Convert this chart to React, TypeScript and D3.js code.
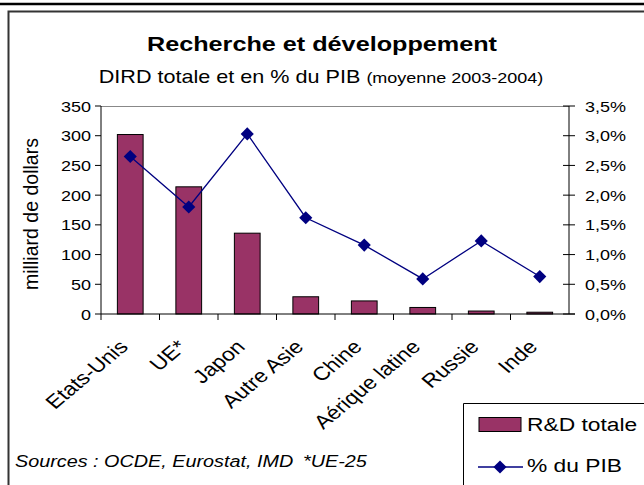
import * as d3 from 'd3';
import React from 'react';

const categories = ['Etats-Unis', 'UE*', 'Japon', 'Autre Asie', 'Chine', 'Aérique latine', 'Russie', 'Inde'];
const rdTotal = [302, 214, 136, 29, 22, 11, 5, 3];
const pctPib = [2.65, 1.8, 3.03, 1.62, 1.16, 0.59, 1.23, 0.63];
const leftTicks = [0, 50, 100, 150, 200, 250, 300, 350];
const rightTicks = [0, 0.5, 1, 1.5, 2, 2.5, 3, 3.5];

const W = 644;
const H = 485;
const margin = { top: 106, right: 75, bottom: 171, left: 101 };
const font = 'Liberation Sans, Arial, sans-serif';
const barColor = '#993366';
const lineColor = '#000080';

// the reference text is drawn a bit wider than it is tall
const T = ({ x, y, sx = 1.2, rot = 0, children, ...rest }: any) => (
  <text transform={`translate(${x},${y}) scale(${sx},1)${rot ? ` rotate(${rot})` : ''}`} {...rest}>{children}</text>
);

export default function App() {
  const yL = d3.scaleLinear().domain([0, 350]).range([H - margin.bottom, margin.top]);
  const yR = d3.scaleLinear().domain([0, 3.5]).range([H - margin.bottom, margin.top]);
  const step = (W - margin.left - margin.right) / categories.length;
  const cx = (i: number) => margin.left + step * (i + 0.5);
  const bw = step * 0.44;

  const line = d3.line<number>()
    .x((_, i) => cx(i))
    .y(d => yR(d));

  const diamond = d3.symbol().type(d3.symbolDiamond2).size(110)();
  const y0 = yL(0);
  const xR = W - margin.right;

  return (
    <svg width={W} height={H} style={{ position: 'absolute', left: 0, top: 0, background: '#fff' }} fontFamily={font}>
      <line x1={0} x2={W} y1={4} y2={4} stroke="#000" strokeWidth={2.5} />
      <path d={`M8.5,${H} V11.5 H${W}`} fill="none" stroke="#333" strokeWidth={2} />

      <T x={322} y={51} textAnchor="middle" fontSize={21} fontWeight="bold">Recherche et développement</T>
      <T x={321} y={83} textAnchor="middle" fontSize={18}>
        DIRD totale et en % du PIB <tspan fontSize={15}>(moyenne 2003-2004)</tspan>
      </T>

      {/* plot frame top */}
      <line x1={margin.left} x2={xR} y1={margin.top + 0.5} y2={margin.top + 0.5} stroke="#888" />

      {categories.map((c, i) => (
        <rect key={c} x={cx(i) - bw / 2} y={yL(rdTotal[i])} width={bw} height={y0 - yL(rdTotal[i])}
          fill={barColor} stroke="#000" strokeWidth={1} />
      ))}

      {/* left axis */}
      <line x1={margin.left} x2={margin.left} y1={margin.top} y2={y0 + 6} stroke="#000" />
      {leftTicks.map(t => (
        <g key={t}>
          <line x1={margin.left - 6} x2={margin.left} y1={yL(t)} y2={yL(t)} stroke="#000" />
          <T x={margin.left - 10} y={yL(t) + 5.5} textAnchor="end" fontSize={15}>{t}</T>
        </g>
      ))}
      <T x={38} y={214} rot={-90} textAnchor="middle" fontSize={16.5} textLength={152} lengthAdjust="spacingAndGlyphs">milliard de dollars</T>

      {/* right axis */}
      <line x1={xR} x2={xR} y1={margin.top} y2={y0} stroke="#000" />
      {rightTicks.map(t => (
        <g key={t}>
          <line x1={xR - 6} x2={xR + 6} y1={yR(t)} y2={yR(t)} stroke="#000" />
          <T x={xR + 16} y={yR(t) + 5.5} fontSize={15}>{t.toFixed(1).replace('.', ',') + '%'}</T>
        </g>
      ))}

      {/* x axis */}
      <line x1={margin.left} x2={xR + 6} y1={y0} y2={y0} stroke="#000" />
      {d3.range(1, categories.length).map(k => (
        <line key={k} x1={margin.left + step * k} x2={margin.left + step * k} y1={y0} y2={y0 + 6} stroke="#000" />
      ))}
      {categories.map((c, i) => (
        <T key={c} x={cx(i) - 1} y={y0 + 34} rot={-45} textAnchor="end" fontSize={19}>{c}</T>
      ))}

      <path d={line(pctPib) || ''} fill="none" stroke={lineColor} strokeWidth={1.3} />
      {pctPib.map((v, i) => (
        <path key={i} d={diamond || ''} transform={`translate(${cx(i)},${yR(v)})`} fill={lineColor} />
      ))}

      <T x={15} y={467} fontSize={16.5} fontStyle="italic">Sources : OCDE, Eurostat, IMD</T>
      <T x={303} y={467} fontSize={16.5} fontStyle="italic">*UE-25</T>

      {/* legend */}
      <path d={`M463.5,${H} V403.5 H${W}`} fill="none" stroke="#000" strokeWidth={1} />
      <rect x={479} y={417.5} width={42} height={14} fill={barColor} stroke="#000" />
      <T x={527} y={431} fontSize={19}>R&amp;D totale</T>
      <line x1={478} x2={523} y1={467} y2={467} stroke={lineColor} strokeWidth={1.3} />
      <path d={diamond || ''} transform="translate(500,467)" fill={lineColor} />
      <T x={527} y={472} fontSize={19}>% du PIB</T>
    </svg>
  );
}
